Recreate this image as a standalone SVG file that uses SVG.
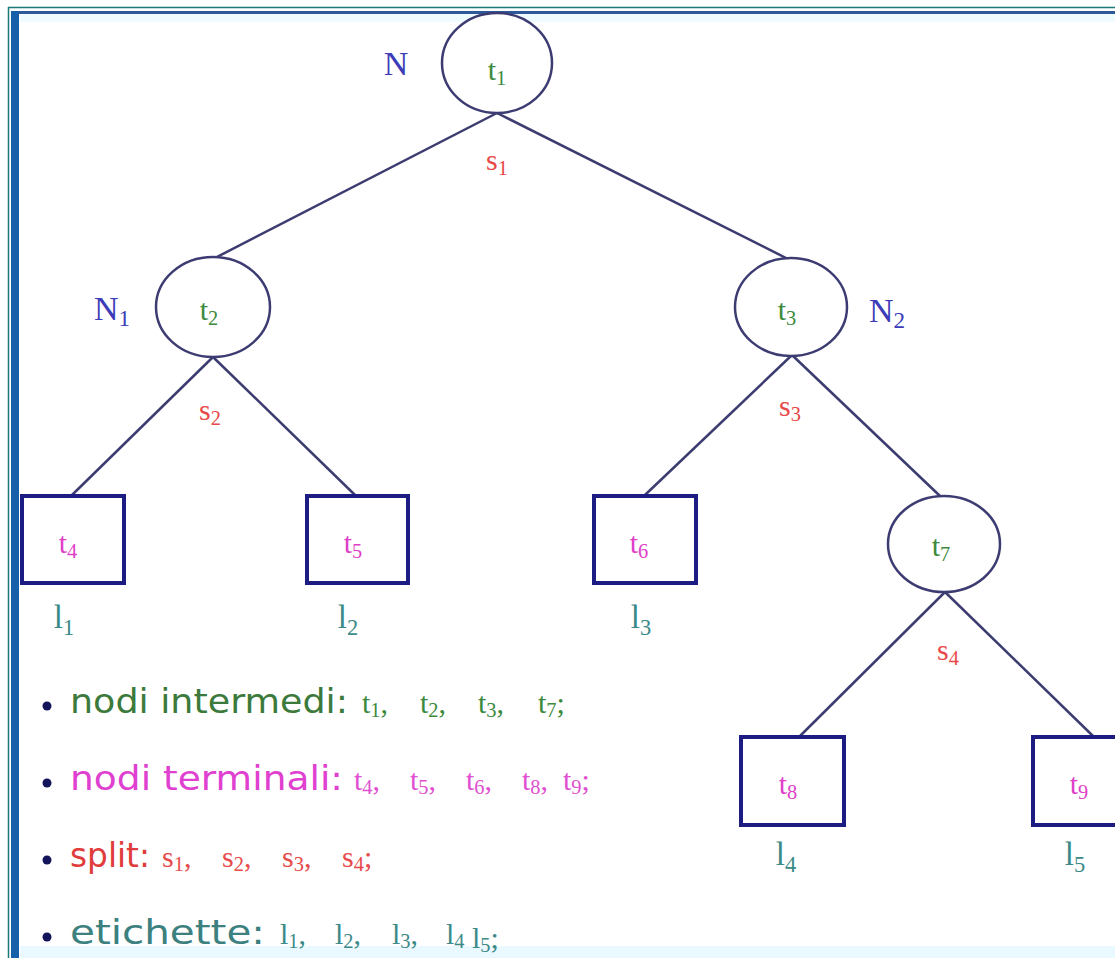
<svg xmlns="http://www.w3.org/2000/svg" width="1115" height="958" viewBox="0 0 1115 958">
  <style>
    .edge { stroke: #3c3c70; stroke-width: 2.5; fill: none; }
    .inner { fill: #ffffff; stroke: #3c3c72; stroke-width: 2.5; }
    .leaf { fill: #ffffff; stroke: #1c1c82; stroke-width: 4; }
    .math { font-family: "Liberation Serif", "DejaVu Serif", serif; }
    .tn { font-size: 30px; fill: #3c8a3c; }
    .tl { font-size: 30px; fill: #e040c8; }
    .nl { font-size: 34px; fill: #3c3cb8; }
    .sl { font-size: 30px; fill: #e84848; }
    .ll { font-size: 33px; fill: #3a8a88; }
    .sub { font-size: 0.68em; }
    .legend { font-family: "DejaVu Sans", "Liberation Sans", sans-serif; font-size: 33px; }
    .lm { font-family: "Liberation Serif", "DejaVu Serif", serif; font-size: 30px; }
  </style>

  <!-- page background and frame -->
  <rect x="0" y="0" width="1115" height="958" fill="#ffffff"/>
  <rect x="20" y="14" width="1095" height="8" fill="#eefcff"/>
  <rect x="20" y="946" width="1095" height="12" fill="#eaf8ff"/>
  <line x1="8" y1="7.5" x2="1115" y2="7.5" stroke="#1a7a78" stroke-width="1.5"/>
  <line x1="8.5" y1="7" x2="8.5" y2="958" stroke="#1a7a78" stroke-width="1.5"/>
  <rect x="11" y="11" width="1104" height="3" fill="#2e5a9a"/>
  <rect x="11" y="11" width="8" height="947" fill="#1560a8"/>

  <!-- connectors -->
  <g id="edges">
    <line class="edge" x1="497" y1="113" x2="215" y2="258"/>
    <line class="edge" x1="497" y1="113" x2="790" y2="260"/>
    <line class="edge" x1="213" y1="357" x2="72" y2="495"/>
    <line class="edge" x1="213" y1="357" x2="355" y2="495"/>
    <line class="edge" x1="792" y1="355" x2="645" y2="495"/>
    <line class="edge" x1="792" y1="355" x2="940" y2="496"/>
    <line class="edge" x1="945" y1="592" x2="800" y2="736"/>
    <line class="edge" x1="945" y1="592" x2="1093" y2="736"/>
  </g>

  <!-- internal nodes -->
  <g id="node-t1">
    <ellipse class="inner" cx="497" cy="63" rx="55" ry="50"/>
    <text class="math tn" x="497" y="80" text-anchor="middle">t<tspan class="sub" dy="5">1</tspan></text>
    <text class="math nl" x="396" y="75" text-anchor="middle">N</text>
    <text class="math sl" x="497" y="170" text-anchor="middle">s<tspan class="sub" dy="5">1</tspan></text>
  </g>
  <g id="node-t2">
    <ellipse class="inner" cx="213" cy="307" rx="57" ry="50"/>
    <text class="math tn" x="209" y="320" text-anchor="middle">t<tspan class="sub" dy="5">2</tspan></text>
    <text class="math nl" x="112" y="320" text-anchor="middle">N<tspan class="sub" dy="6">1</tspan></text>
    <text class="math sl" x="210" y="420" text-anchor="middle">s<tspan class="sub" dy="5">2</tspan></text>
  </g>
  <g id="node-t3">
    <ellipse class="inner" cx="791" cy="307" rx="56" ry="49"/>
    <text class="math tn" x="787" y="320" text-anchor="middle">t<tspan class="sub" dy="5">3</tspan></text>
    <text class="math nl" x="887" y="322" text-anchor="middle">N<tspan class="sub" dy="6">2</tspan></text>
    <text class="math sl" x="790" y="416" text-anchor="middle">s<tspan class="sub" dy="5">3</tspan></text>
  </g>
  <g id="node-t7">
    <ellipse class="inner" cx="944" cy="544" rx="56" ry="48"/>
    <text class="math tn" x="941" y="556" text-anchor="middle">t<tspan class="sub" dy="5">7</tspan></text>
    <text class="math sl" x="948" y="660" text-anchor="middle">s<tspan class="sub" dy="5">4</tspan></text>
  </g>

  <!-- terminal nodes -->
  <g id="node-t4">
    <rect class="leaf" x="22" y="496" width="102" height="87"/>
    <text class="math tl" x="68" y="553" text-anchor="middle">t<tspan class="sub" dy="5">4</tspan></text>
    <text class="math ll" x="64" y="628" text-anchor="middle">l<tspan class="sub" dy="7">1</tspan></text>
  </g>
  <g id="node-t5">
    <rect class="leaf" x="307" y="496" width="101" height="87"/>
    <text class="math tl" x="353" y="553" text-anchor="middle">t<tspan class="sub" dy="5">5</tspan></text>
    <text class="math ll" x="348" y="628" text-anchor="middle">l<tspan class="sub" dy="7">2</tspan></text>
  </g>
  <g id="node-t6">
    <rect class="leaf" x="594" y="496" width="102" height="87"/>
    <text class="math tl" x="639" y="553" text-anchor="middle">t<tspan class="sub" dy="5">6</tspan></text>
    <text class="math ll" x="641" y="628" text-anchor="middle">l<tspan class="sub" dy="7">3</tspan></text>
  </g>
  <g id="node-t8">
    <rect class="leaf" x="741" y="737" width="103" height="88"/>
    <text class="math tl" x="788" y="794" text-anchor="middle">t<tspan class="sub" dy="5">8</tspan></text>
    <text class="math ll" x="786" y="865" text-anchor="middle">l<tspan class="sub" dy="7">4</tspan></text>
  </g>
  <g id="node-t9">
    <rect class="leaf" x="1033" y="737" width="103" height="88"/>
    <text class="math tl" x="1079" y="794" text-anchor="middle">t<tspan class="sub" dy="5">9</tspan></text>
    <text class="math ll" x="1075" y="865" text-anchor="middle">l<tspan class="sub" dy="7">5</tspan></text>
  </g>

  <!-- legend -->
  <g id="legend">
    <circle cx="47" cy="706" r="4.5" fill="#14145a"/>
    <text class="legend" x="70" y="713" fill="#3c7a3c" textLength="278" lengthAdjust="spacingAndGlyphs">nodi intermedi:</text>
    <text class="lm" y="713" fill="#3c8a3c"><tspan x="362">t<tspan class="sub" dy="4">1</tspan><tspan dy="-4">,</tspan></tspan><tspan x="420">t<tspan class="sub" dy="4">2</tspan><tspan dy="-4">,</tspan></tspan><tspan x="478">t<tspan class="sub" dy="4">3</tspan><tspan dy="-4">,</tspan></tspan><tspan x="538">t<tspan class="sub" dy="4">7</tspan><tspan dy="-4">;</tspan></tspan></text>

    <circle cx="47" cy="783" r="4.5" fill="#14145a"/>
    <text class="legend" x="70" y="790" fill="#e040d0" textLength="273" lengthAdjust="spacingAndGlyphs">nodi terminali:</text>
    <text class="lm" y="790" fill="#e050d0"><tspan x="354">t<tspan class="sub" dy="4">4</tspan><tspan dy="-4">,</tspan></tspan><tspan x="410">t<tspan class="sub" dy="4">5</tspan><tspan dy="-4">,</tspan></tspan><tspan x="466">t<tspan class="sub" dy="4">6</tspan><tspan dy="-4">,</tspan></tspan><tspan x="522">t<tspan class="sub" dy="4">8</tspan><tspan dy="-4">,</tspan></tspan><tspan x="563">t<tspan class="sub" dy="4">9</tspan><tspan dy="-4">;</tspan></tspan></text>

    <circle cx="47" cy="860" r="4.5" fill="#14145a"/>
    <text class="legend" x="70" y="867" fill="#e03c3c" textLength="80" lengthAdjust="spacingAndGlyphs">split:</text>
    <text class="lm" y="867" fill="#e84a4a"><tspan x="162">s<tspan class="sub" dy="4">1</tspan><tspan dy="-4">,</tspan></tspan><tspan x="222">s<tspan class="sub" dy="4">2</tspan><tspan dy="-4">,</tspan></tspan><tspan x="282">s<tspan class="sub" dy="4">3</tspan><tspan dy="-4">,</tspan></tspan><tspan x="342">s<tspan class="sub" dy="4">4</tspan><tspan dy="-4">;</tspan></tspan></text>

    <circle cx="47" cy="937" r="4.5" fill="#14145a"/>
    <text class="legend" x="70" y="944" fill="#3c8080" textLength="195" lengthAdjust="spacingAndGlyphs">etichette:</text>
    <text class="lm" y="944" fill="#3c8a88"><tspan x="280">l<tspan class="sub" dy="4">1</tspan><tspan dy="-4">,</tspan></tspan><tspan x="335">l<tspan class="sub" dy="4">2</tspan><tspan dy="-4">,</tspan></tspan><tspan x="392">l<tspan class="sub" dy="4">3</tspan><tspan dy="-4">,</tspan></tspan><tspan x="446">l<tspan class="sub" dy="4">4</tspan></tspan><tspan x="472">l<tspan class="sub" dy="4">5</tspan><tspan dy="-4">;</tspan></tspan></text>
  </g>
</svg>
